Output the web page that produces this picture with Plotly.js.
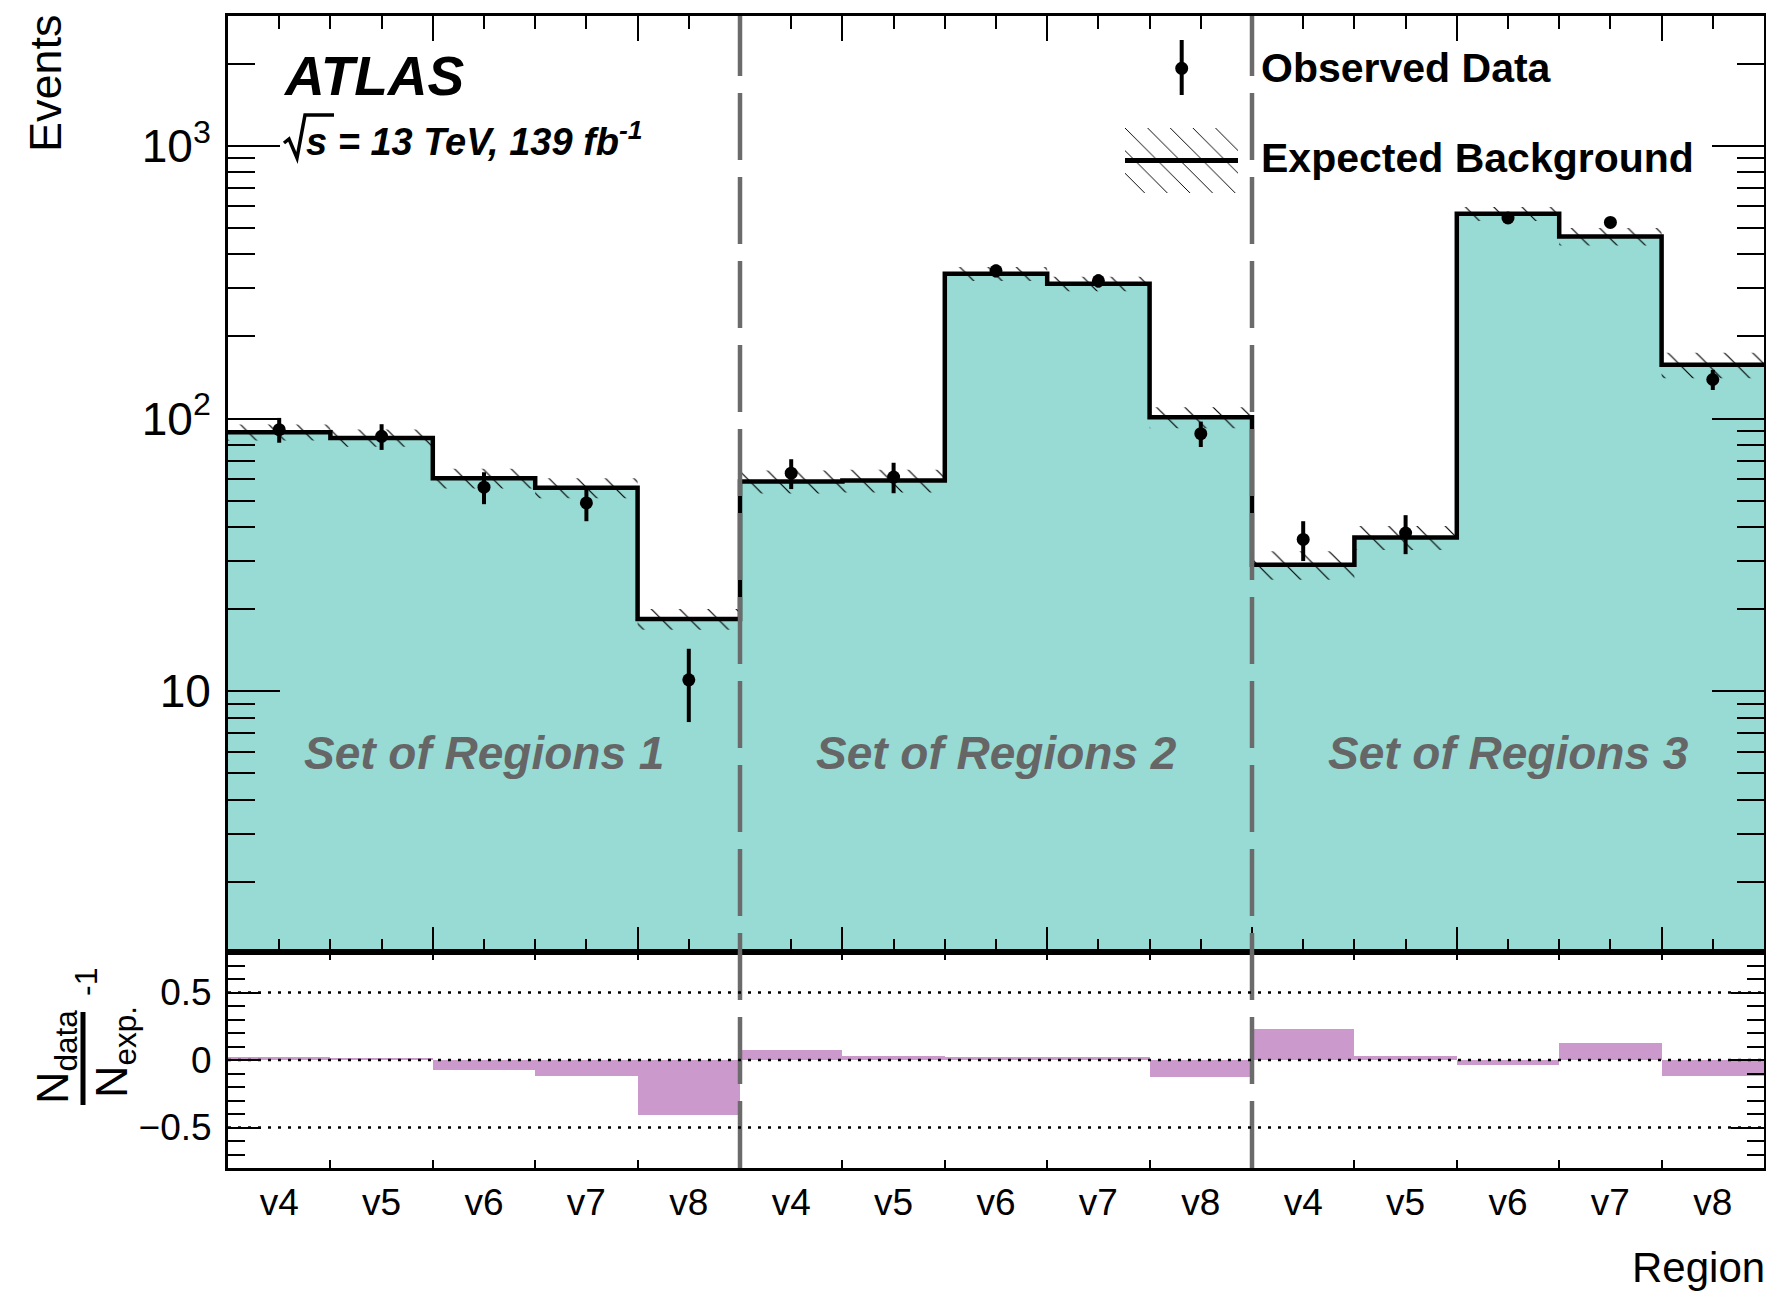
<!DOCTYPE html>
<html>
<head>
<meta charset="utf-8">
<script src="https://cdn.plot.ly/plotly-3.0.1.min.js"></script>
<style>html,body{margin:0;padding:0;background:#fff;}</style>
</head>
<body>
<div id="chart" style="width:1766px;height:1291px;"></div>
<script>
// ---------------- data ----------------
const categories = ['v4','v5','v6','v7','v8','v4','v5','v6','v7','v8','v4','v5','v6','v7','v8'];
const groupNames = ['Set of Regions 1','Set of Regions 2','Set of Regions 3'];
const groupSizes = [5, 5, 5];
const expected    = [89.1, 84.9, 60.4, 55.7, 18.4, 58.8, 59.2, 339.6, 312, 101, 29.1, 36.6, 563.6, 465.6, 157.4];
const expectedErr = [6.0, 6.2, 5.0, 4.7, 1.6, 5.7, 5.7, 20, 19, 8.9, 3.5, 3.7, 33, 34, 17];
const observed    = [91, 86, 56, 49, 11, 63, 61, 348, 320, 88, 36, 38, 544, 524, 139];
const observedErr = [9.5, 9.3, 7.5, 7.0, 3.3, 7.9, 7.8, 18.7, 17.9, 9.4, 6.0, 6.2, 23.3, 22.9, 11.8];
const ratio       = [0.023, 0.013, -0.076, -0.121, -0.407, 0.075, 0.027, 0.025, 0.025, -0.126, 0.232, 0.03, -0.035, 0.126, -0.116];
const yTickVals = [10, 100, 1000];
const yTickText = ['10', '10<sup>2</sup>', '10<sup>3</sup>'];
const rTickVals = [-0.5, 0, 0.5];
const rTickText = ['\u22120.5', '0', '0.5'];

// ---------------- geometry helpers ----------------
const W = 1766, H = 1291;
const mL = 228, mR = 2, mT = 16, mB = 123;
const PW = W - mL - mR, PH = H - mT - mB;
const px = v => (v - mL) / PW;
const py = v => (H - mB - v) / PH;
const splitY = py(952);

const FONT = 'Liberation Sans, Arial, Helvetica, sans-serif';
const teal = '#98dbd4';
const purple = '#cc99cc';
const grey = '#6b6b6b';

const centers = categories.map((_, i) => i + 0.5);
const edges = categories.map((_, i) => i).concat([categories.length]);
const stepY = expected.concat([expected[expected.length - 1]]);

// hatched band polygons
const bandX = [], bandY = [];
expected.forEach((v, i) => {
  const lo = v - expectedErr[i], hi = v + expectedErr[i];
  bandX.push(i, i + 1, i + 1, i, i, null);
  bandY.push(lo, lo, hi, hi, lo, null);
});

// group boundaries and centers
const bounds = []; const gCenters = [];
let acc = 0;
groupSizes.forEach((n, k) => { gCenters.push(acc + n / 2); acc += n; if (k < groupSizes.length - 1) bounds.push(acc); });

// log minor ticks
const minorLog = [];
for (let e = 0; e <= 3; e++) for (let d = 2; d <= 9; d++) minorLog.push(d * Math.pow(10, e));

const traces = [
  { type: 'bar', x: centers, y: expected, width: 1, marker: { color: teal, line: { width: 0 } },
    xaxis: 'x', yaxis: 'y', hoverinfo: 'skip', showlegend: false },
  { type: 'scatter', mode: 'lines', x: bandX, y: bandY, fill: 'toself', fillcolor: 'rgba(0,0,0,0)',
    fillpattern: { shape: '\\', size: 20, solidity: 0.06, fgcolor: '#000', bgcolor: 'rgba(0,0,0,0)' },
    line: { width: 0, color: 'rgba(0,0,0,0)' }, xaxis: 'x', yaxis: 'y', hoverinfo: 'skip', showlegend: false },
  { type: 'scatter', mode: 'lines', x: edges, y: stepY, line: { shape: 'hv', color: '#000', width: 4.5 },
    xaxis: 'x', yaxis: 'y', hoverinfo: 'skip', showlegend: false },
  { type: 'scatter', mode: 'markers', x: centers, y: observed,
    error_y: { type: 'data', array: observedErr, visible: true, color: '#000', thickness: 4, width: 0 },
    marker: { color: '#000', size: 13 }, xaxis: 'x', yaxis: 'y', hoverinfo: 'skip', showlegend: false },
  { type: 'bar', x: centers, y: ratio, width: 1, marker: { color: purple, line: { width: 0 } },
    xaxis: 'x2', yaxis: 'y2', hoverinfo: 'skip', showlegend: false },
  // legend glyph: hatched box with line
  { type: 'scatter', mode: 'lines', x: [0, 1, 1, 0, 0], y: [0, 0, 1, 1, 0], fill: 'toself', fillcolor: 'rgba(0,0,0,0)',
    fillpattern: { shape: '\\', size: 16, solidity: 0.06, fgcolor: '#000', bgcolor: 'rgba(0,0,0,0)' },
    line: { width: 0, color: 'rgba(0,0,0,0)' }, xaxis: 'x3', yaxis: 'y3', hoverinfo: 'skip', showlegend: false },
  { type: 'scatter', mode: 'lines', x: [0, 1], y: [0.5, 0.5], line: { color: '#000', width: 5 },
    xaxis: 'x3', yaxis: 'y3', hoverinfo: 'skip', showlegend: false }
];

const axCommon = { showline: true, linecolor: '#000', linewidth: 3, mirror: 'ticks', ticks: 'inside',
  tickcolor: '#000', tickwidth: 2, showgrid: false, zeroline: false, fixedrange: true };

const shapes = [];
bounds.forEach(b => shapes.push({ type: 'line', xref: 'x', yref: 'paper', x0: b, x1: b, y0: 0, y1: 1,
  line: { color: grey, width: 4.5, dash: '67px,17px' } }));
rTickVals.forEach(v => shapes.push({ type: 'line', xref: 'paper', yref: 'y2', x0: 0, x1: 1, y0: v, y1: v,
  line: { color: '#000', width: 2.5, dash: '3px,7px' } }));
// legend data glyph
shapes.push({ type: 'line', xref: 'paper', yref: 'paper', x0: px(1181.7), x1: px(1181.7), y0: py(40), y1: py(95),
  line: { color: '#000', width: 4 } });
shapes.push({ type: 'circle', xref: 'paper', yref: 'paper', x0: px(1175.2), x1: px(1188.2), y0: py(74.8), y1: py(61.8),
  fillcolor: '#000', line: { color: '#000', width: 0 } });
// ratio title fraction bar
shapes.push({ type: 'line', xref: 'paper', yref: 'paper', x0: px(83), x1: px(83), y0: py(1105), y1: py(1012),
  line: { color: '#000', width: 5 } });
// square-root radical for sqrt(s)
const rad = [[284, 143], [289, 139], [297, 158], [305, 115], [334, 115]];
shapes.push({ type: 'path', xref: 'paper', yref: 'paper',
  path: rad.map((p, i) => (i ? 'L' : 'M') + px(p[0]) + ',' + py(p[1])).join(' '),
  line: { color: '#000', width: 3.5 } });

const ann = (o) => Object.assign({ xref: 'paper', yref: 'paper', showarrow: false, font: { family: FONT, size: 40, color: '#000' } }, o);
const annotations = [
  ann({ text: '<b><i>ATLAS</i></b>', x: px(281), y: py(76), xanchor: 'left', yanchor: 'middle', font: { family: FONT, size: 55, color: '#000' } }),
  ann({ text: '<b><i>s = 13 TeV, 139 fb<sup>-1</sup></i></b>', x: px(304), y: py(139), xanchor: 'left', yanchor: 'middle', font: { family: FONT, size: 38, color: '#000' } }),
  ann({ text: '<b>Observed Data</b>', x: px(1259), y: py(68), xanchor: 'left', yanchor: 'middle', font: { family: FONT, size: 41, color: '#000' } }),
  ann({ text: '<b>Expected Background</b>', x: px(1259), y: py(158), xanchor: 'left', yanchor: 'middle', font: { family: FONT, size: 41, color: '#000' } }),
  ann({ text: 'Events', textangle: -90, x: px(46), y: py(12), xanchor: 'center', yanchor: 'top', font: { family: FONT, size: 45, color: '#000' } }),
  ann({ text: 'Region', x: px(1630), y: py(1267), xanchor: 'left', yanchor: 'middle', font: { family: FONT, size: 42, color: '#000' } }),
  ann({ text: 'N<sub>data</sub>', textangle: -90, x: px(55), y: py(1057), xanchor: 'center', yanchor: 'middle', font: { family: FONT, size: 45, color: '#000' } }),
  ann({ text: 'N<sub>exp.</sub>', textangle: -90, x: px(114), y: py(1052), xanchor: 'center', yanchor: 'middle', font: { family: FONT, size: 45, color: '#000' } }),
  ann({ text: '-1', textangle: -90, x: px(86), y: py(982), xanchor: 'center', yanchor: 'middle', font: { family: FONT, size: 32, color: '#000' } })
];
groupNames.forEach((g, k) => annotations.push({ xref: 'x', yref: 'paper', x: gCenters[k], y: py(753), showarrow: false,
  xanchor: 'center', yanchor: 'middle', text: '<b><i>' + g + '</i></b>', font: { family: FONT, size: 46, color: '#666666' } }));

const layout = {
  width: W, height: H,
  margin: { l: mL, r: mR, t: mT, b: mB, pad: 0 },
  paper_bgcolor: '#fff', plot_bgcolor: 'rgba(0,0,0,0)',
  showlegend: false, bargap: 0, barmode: 'overlay',
  font: { family: FONT, size: 37, color: '#000' },
  xaxis: Object.assign({}, axCommon, { domain: [0, 1], anchor: 'y', range: [0, categories.length],
    tickmode: 'linear', tick0: 0, dtick: 2, ticklen: 25, showticklabels: false,
    minor: { tickmode: 'linear', tick0: 0, dtick: 0.5, ticklen: 13, ticks: 'inside', tickwidth: 2, tickcolor: '#000', showgrid: false } }),
  yaxis: Object.assign({}, axCommon, { domain: [splitY, 1], anchor: 'x', type: 'log', range: [0.043, 3.4765],
    tickmode: 'array', tickvals: yTickVals, ticktext: yTickText, ticklen: 52,
    tickfont: { family: FONT, size: 46, color: '#000' }, ticklabelstandoff: 5,
    minor: { tickmode: 'array', tickvals: minorLog, ticklen: 27, ticks: 'inside', tickwidth: 2, tickcolor: '#000', showgrid: false } }),
  xaxis2: Object.assign({}, axCommon, { domain: [0, 1], anchor: 'y2', matches: 'x', range: [0, categories.length],
    tickmode: 'array', tickvals: centers, ticktext: categories, ticklen: 0,
    tickfont: { family: FONT, size: 37, color: '#000' },
    minor: { tickmode: 'linear', tick0: 0, dtick: 1, ticklen: 8, ticks: 'inside', tickwidth: 2, tickcolor: '#000', showgrid: false } }),
  yaxis2: Object.assign({}, axCommon, { domain: [0, splitY], anchor: 'x2', range: [-0.8, 0.8],
    tickmode: 'array', tickvals: rTickVals, ticktext: rTickText, ticklen: 33,
    tickfont: { family: FONT, size: 37, color: '#000' }, ticklabelstandoff: 6,
    minor: { tickmode: 'linear', tick0: 0, dtick: 0.1, ticklen: 17, ticks: 'inside', tickwidth: 2, tickcolor: '#000', showgrid: false } }),
  xaxis3: { domain: [px(1125), px(1238)], anchor: 'y3', range: [0, 1], visible: false, fixedrange: true },
  yaxis3: { domain: [py(193), py(128)], anchor: 'x3', range: [0, 1], visible: false, fixedrange: true },
  shapes: shapes,
  annotations: annotations
};

Plotly.newPlot('chart', traces, layout, { staticPlot: true, displayModeBar: false });
</script>
</body>
</html>
